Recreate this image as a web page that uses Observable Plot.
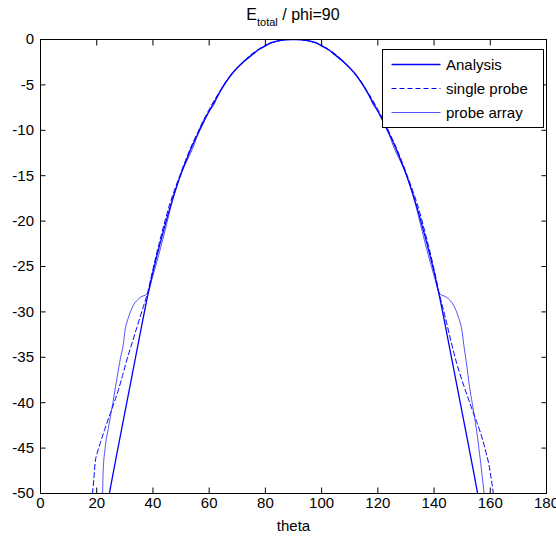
<!DOCTYPE html>
<html>
<head>
<meta charset="utf-8">
<script src="https://cdn.jsdelivr.net/npm/d3@7"></script>
<script src="https://cdn.jsdelivr.net/npm/@observablehq/plot@0.6"></script>
<style>
  html, body { margin: 0; padding: 0; background: #fff; }
  #chart { width: 556px; height: 543px; }
</style>
</head>
<body>
<div id="chart"></div>
<script>
// ---- data ----
const xTicks = [0, 20, 40, 60, 80, 100, 120, 140, 160, 180];
const yTicks = [-50, -45, -40, -35, -30, -25, -20, -15, -10, -5, 0];
const titleMain = "E";
const titleSub = "total";
const titleRest = " / phi=90";
const xLabel = "theta";
const seriesNames = ["Analysis", "single probe", "probe array"];

const analysisTheta = [24.5, 26, 28, 30, 32, 34, 36, 38, 40, 42, 44, 46, 48, 50, 52, 54, 56, 58, 60, 62, 64, 66, 68, 70, 72, 74, 76, 78, 80, 82, 84, 86, 88, 90,
  92, 94, 96, 98, 100, 102, 104, 106, 108, 110, 112, 114, 116, 118, 120, 122, 124, 126, 128, 130, 132, 134, 136, 138, 140, 142, 144, 146, 148, 150, 152, 154, 155.5];
const analysisDb = [-50, -47.5, -44.3, -41.1, -37.9, -34.7, -31.5, -28.4, -25.6, -23.1, -20.8, -18.6, -16.6, -14.8, -13.2, -11.7, -10.4, -9.1, -7.9, -6.8, -5.7, -4.7, -3.8, -3.1, -2.5, -2.0, -1.5, -1.05, -0.7, -0.35, -0.18, -0.07, -0.02, 0,
  -0.02, -0.07, -0.18, -0.35, -0.7, -1.05, -1.5, -2.0, -2.5, -3.1, -3.8, -4.7, -5.7, -6.8, -7.9, -9.1, -10.4, -11.7, -13.2, -14.8, -16.6, -18.6, -20.8, -23.1, -25.6, -28.4, -31.5, -34.7, -37.9, -41.1, -44.3, -47.5, -50];

const singleTheta = [18.5, 19.0, 19.4, 20.2, 21.2, 23, 24.8, 26.3, 27.7, 29.2, 30.7, 32.5, 34.3, 36.2, 38, 40, 42, 44, 46, 48, 50, 52, 54, 56, 58, 60, 62, 64, 66, 68, 70, 72, 74, 76, 78, 80, 82, 84, 86, 88, 90,
  92, 94, 96, 98, 100, 102, 104, 106, 108, 110, 112, 114, 116, 118, 120, 122, 124, 126, 128, 130, 132, 134, 136, 138, 140, 142, 144, 146, 148, 150, 151.8, 153.6, 155.4, 157.2, 158.5, 159.5, 160.3, 161.1];
const singleDb = [-50, -48.3, -46.7, -45.5, -44.5, -42.8, -41.2, -39.9, -38.6, -37, -35.3, -33.5, -31.7, -29.8, -28.0, -25.3, -22.7, -20.3, -18.1, -16.3, -14.6, -13.0, -11.5, -10.2, -8.9, -7.7, -6.6, -5.6, -4.6, -3.8, -3.1, -2.5, -1.9, -1.4, -1.0, -0.65, -0.4, -0.2, -0.08, -0.02, 0,
  -0.02, -0.08, -0.2, -0.4, -0.65, -1.0, -1.4, -1.9, -2.5, -3.1, -3.8, -4.6, -5.6, -6.6, -7.7, -8.9, -10.2, -11.5, -13.0, -14.6, -16.3, -18.1, -20.3, -22.7, -25.3, -28.2, -30.6, -33.2, -35.6, -37.6, -39.2, -40.8, -42.3, -44.0, -45.5, -46.8, -48.3, -50];

const arrayTheta = [22.1, 22.3, 23, 24.2, 25.7, 26.7, 27.7, 28.5, 29.3, 30.1, 31.3, 33, 35.5, 38, 40, 42, 44, 46, 48, 50, 52, 54, 55, 56, 58, 60, 62, 63, 64, 66, 68, 70, 72, 74, 76, 78, 80, 82, 84, 86, 88, 90,
  92, 94, 96, 98, 100, 102, 104, 106, 108, 110, 112, 114, 116, 117, 118, 120, 122, 124, 125, 126, 128, 130, 132, 134, 136, 138, 140, 142, 144.5, 147, 148.7, 149.9, 150.7, 151.5, 152.6, 153.6, 155.1, 156.6, 157.8];
const arrayDb = [-50, -47.5, -45, -42.7, -40.1, -38.2, -36.4, -35.0, -33.9, -32.0, -30.6, -29.3, -28.4, -28.0, -26.0, -23.8, -21.4, -18.9, -16.6, -14.8, -13.4, -12.1, -11.3, -10.3, -8.9, -7.9, -7.0, -6.2, -5.6, -4.6, -3.9, -3.2, -2.6, -2.0, -1.5, -1.0, -0.7, -0.4, -0.2, -0.07, -0.01, 0,
  -0.01, -0.07, -0.2, -0.4, -0.7, -1.0, -1.5, -2.0, -2.6, -3.2, -3.9, -4.6, -5.6, -6.2, -7.0, -7.9, -8.9, -10.3, -11.3, -12.1, -13.4, -14.8, -16.6, -18.9, -21.4, -23.8, -26.0, -28.0, -28.4, -29.3, -30.6, -32.0, -33.9, -35.6, -38.2, -40.1, -43.0, -46.7, -50];

// ---- build table for the library ----
function toRows(th, db) { return th.map((t, i) => ({theta: t, db: db[i]})); }
const analysisRows = toRows(analysisTheta, analysisDb);
const singleRows = toRows(singleTheta, singleDb);
const arrayRows = toRows(arrayTheta, arrayDb);

const lineStyles = [
  {stroke: "#0000ff", strokeWidth: 1.3, strokeOpacity: 1, dash: null},
  {stroke: "#0000ff", strokeWidth: 1, strokeOpacity: 1, dash: "5,3"},
  {stroke: "#0000ff", strokeWidth: 0.9, strokeOpacity: 0.75, dash: null}
];

const font = "'Liberation Sans', Arial, Helvetica, sans-serif";

const chart = Plot.plot({
  width: 556,
  height: 543,
  marginTop: 39,
  marginRight: 10,
  marginBottom: 50,
  marginLeft: 40,
  style: {fontFamily: font, fontSize: "15px", color: "black", background: "white"},
  x: {domain: [0, 180], ticks: xTicks},
  y: {domain: [-50, 0], ticks: yTicks},
  marks: [
    Plot.line(arrayRows, {x: "theta", y: "db", stroke: lineStyles[2].stroke, strokeWidth: lineStyles[2].strokeWidth, strokeOpacity: lineStyles[2].strokeOpacity, curve: "monotone-x", clip: true}),
    Plot.line(singleRows, {x: "theta", y: "db", stroke: lineStyles[1].stroke, strokeWidth: lineStyles[1].strokeWidth, strokeDasharray: lineStyles[1].dash, curve: "monotone-x", clip: true}),
    Plot.line(analysisRows, {x: "theta", y: "db", stroke: lineStyles[0].stroke, strokeWidth: lineStyles[0].strokeWidth, curve: "monotone-x", clip: true}),
    Plot.frame({stroke: "black"}),
    Plot.axisX({anchor: "bottom", ticks: xTicks, tickSize: -5.5, tickPadding: 9, tickFormat: d => String(d), label: null}),
    Plot.axisX({anchor: "top", ticks: xTicks, tickSize: -5.5, fill: "none", label: null}),
    Plot.axisY({anchor: "left", ticks: yTicks, tickSize: -5.5, tickPadding: 12, tickFormat: d => String(d), label: null}),
    Plot.axisY({anchor: "right", ticks: yTicks, tickSize: -5.5, fill: "none", label: null}),
    Plot.text([xLabel], {text: d => d, frameAnchor: "bottom", dy: 37, lineAnchor: "bottom", fontSize: 15})
  ]
});

document.getElementById("chart").appendChild(chart);
const svg = d3.select(chart);

// title with subscript
const title = svg.append("text")
  .attr("x", 293).attr("y", 20)
  .attr("text-anchor", "middle")
  .attr("font-family", font)
  .attr("font-size", 16)
  .attr("fill", "black");
title.append("tspan").text(titleMain);
title.append("tspan").attr("font-size", 11).attr("dy", 6).text(titleSub);
title.append("tspan").attr("dy", -6).text(titleRest);

// legend box
const lg = svg.append("g").attr("font-family", font).attr("font-size", 15).attr("text-anchor", "start");
lg.append("rect").attr("x", 382.5).attr("y", 49.5).attr("width", 161).attr("height", 78)
  .attr("fill", "white").attr("stroke", "black").attr("stroke-width", 1);
const rowY = [64.5, 88.5, 112.5];
seriesNames.forEach((name, i) => {
  const s = lineStyles[i];
  lg.append("line").attr("x1", 391.5).attr("x2", 440.5).attr("y1", rowY[i]).attr("y2", rowY[i])
    .attr("stroke", s.stroke).attr("stroke-width", s.strokeWidth).attr("stroke-opacity", s.strokeOpacity)
    .attr("stroke-dasharray", s.dash);
  lg.append("text").attr("x", 446).attr("y", rowY[i]).attr("dy", "0.35em")
    .attr("text-anchor", "start").attr("fill", "black").text(name);
});
</script>
</body>
</html>
